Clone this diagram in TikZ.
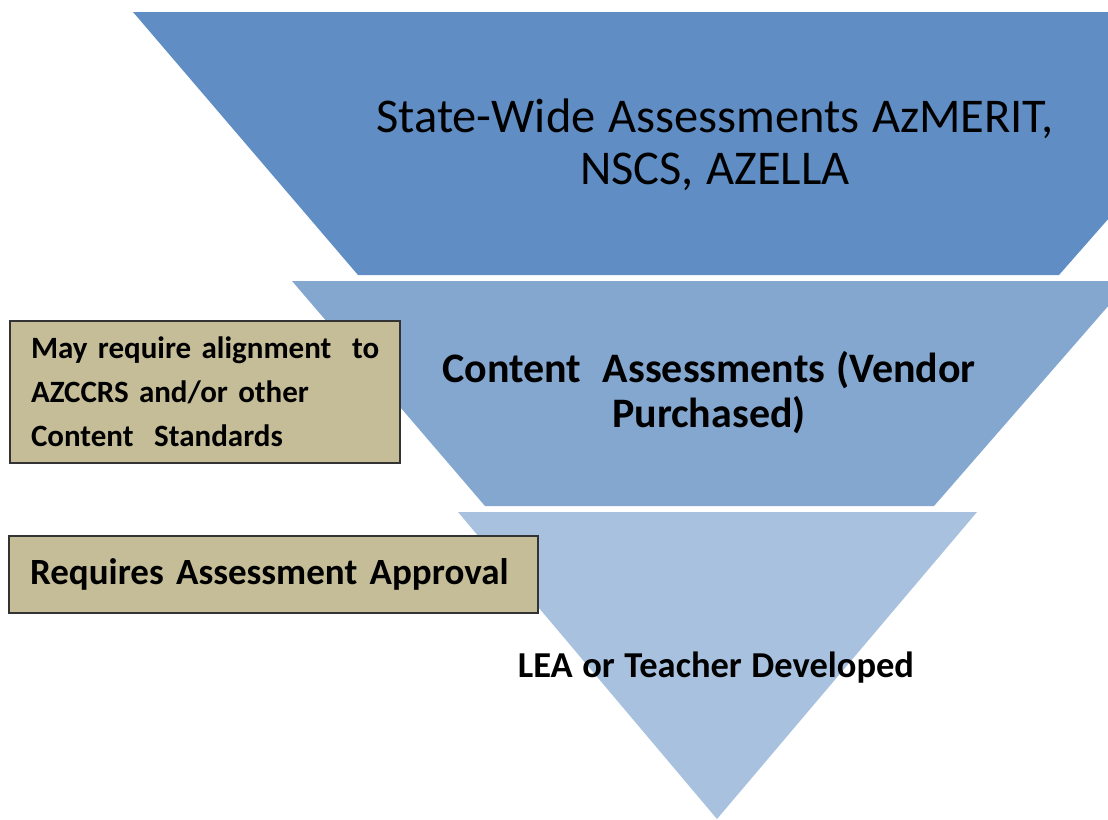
\documentclass[tikz,border=0pt]{standalone}
\usepackage{fontspec}
\setmainfont{Carlito}[WordSpace=1.15]
\definecolor{tierA}{HTML}{5F8DC4}
\definecolor{tierB}{HTML}{84A7D0}
\definecolor{tierC}{HTML}{A8C1DF}
\definecolor{notefill}{HTML}{C4BD97}
\begin{document}
\begin{tikzpicture}
	[x=1pt,y=-1pt,every node/.style={inner sep=0pt,align=center},
	note/.style={draw=black!80, line width=1.3pt, fill=notefill,
		minimum width=#1, inner xsep=21pt, text width=#1-42pt, align=left}]
	\useasboundingbox (0,0) rectangle (1108,819);
	\clip (0,0) rectangle (1108,819);

	% funnel
	\fill[tierA] (133,12) -- (1290,12) -- (1059,275) -- (358,275) -- cycle;
	\fill[tierB] (292,281) -- (1130,281) -- (934,506) -- (485,506) -- cycle;
	\fill[tierC] (458,512) -- (977,512) -- (717,819) -- cycle;

	\node[font=\fontsize{48.5}{52}\selectfont] (state) at (715,145)
		{State-Wide Assessments AzMERIT,\\NSCS, AZELLA};
	\node[font=\fontsize{42}{45}\selectfont\bfseries] (vendor) at (709,393)
		{Content\ \ Assessments (Vendor\\Purchased)};
	\node[font=\fontsize{36.5}{40}\selectfont\bfseries] (lea) at (716,668)
		{LEA or Teacher Developed};

	% notes
	\node[note=390pt, minimum height=142pt, font=\fontsize{31}{44}\selectfont\bfseries]
		(align) at (205,392)
		{\mbox{May require alignment\ \ to}\\\mbox{AZCCRS and/or other}\\\mbox{Content\ \ Standards}};
	\node[note=529pt, minimum height=77pt, font=\fontsize{37}{40}\selectfont\bfseries]
		(approval) at (273.5,574.5) {\mbox{Requires Assessment Approval}};
\end{tikzpicture}
\end{document}
